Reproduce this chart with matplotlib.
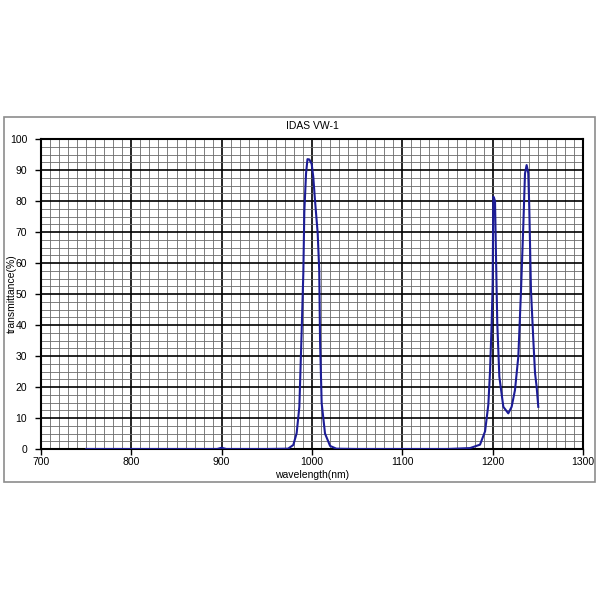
import numpy as np
import matplotlib.pyplot as plt
from matplotlib.patches import Rectangle
from matplotlib.ticker import MultipleLocator

plt.rcParams['font.family'] = ['Liberation Sans', 'DejaVu Sans']

# values
wavelength = [750, 800, 850, 895, 900, 905, 950, 973.5, 979.3, 983, 986, 988.6, 990.4,
              991.5, 993.4, 995, 997, 999.6, 1001.4, 1003.3, 1006.3, 1008, 1008.9,
              1010.7, 1014.4, 1020, 1027, 1050, 1100, 1150, 1175, 1186, 1191.6,
              1195.2, 1197, 1198.9, 1200, 1200.7, 1201.5, 1202.6, 1203.7, 1205.1,
              1207.4, 1211.8, 1217.3, 1221, 1224.7, 1228.4, 1231.4, 1234, 1235.8,
              1237.6, 1239.4, 1240.5, 1242.4, 1245, 1246.9, 1248.7, 1250.5]
transmittance = [0, 0, 0, 0, 0.4, 0, 0, 0.1, 1.3, 5.1, 13.6, 38.4, 56.8,
                 76.5, 88.9, 93.5, 93.4, 92, 87.8, 80.3, 69.6, 57.7, 35,
                 14.8, 5, 1, 0.1, 0, 0, 0, 0.3, 1.4, 5.7,
                 14.3, 24.5, 40.6, 53.5, 81.4, 81, 80, 62, 40.6,
                 23.3, 13.6, 11.5, 13.6, 19, 29.8, 51.3, 72.8, 88.9,
                 91.6, 89, 78.2, 51.3, 35.2, 24.5, 20, 13.6]

fig = plt.figure(figsize=(6, 6), dpi=100)
fig.patches.append(Rectangle((4/600, 1-482/600), 591/600, 365/600,
                             transform=fig.transFigure, fill=False,
                             edgecolor='#8c8c8c', lw=1.2))
ax = fig.add_axes([41/600, 1-449/600, 542/600, 310/600])

ax.plot(wavelength, transmittance, color='#1c1c96', lw=1.5, zorder=3)

ax.set_xlim(700, 1300)
ax.set_ylim(0, 100)
ax.xaxis.set_major_locator(MultipleLocator(100))
ax.xaxis.set_minor_locator(MultipleLocator(10))
ax.yaxis.set_major_locator(MultipleLocator(10))
ax.yaxis.set_minor_locator(MultipleLocator(2.5))
ax.grid(which='major', color='black', lw=1.2)
ax.grid(which='minor', color='#6a6a6a', lw=0.6)
ax.set_axisbelow(True)
for s in ax.spines.values():
    s.set_linewidth(1.5)
ax.tick_params(which='major', direction='out', length=4, width=1, labelsize=7.5)
ax.tick_params(axis='y', pad=6)
ax.tick_params(axis='x', pad=2)
ax.tick_params(which='minor', length=0)

ax.set_title('IDAS VW-1', fontsize=7.5, pad=7)
fig.text(312/600, 1-475/600, 'wavelength(nm)', fontsize=7.5,
         ha='center', va='center')
fig.text(12/600, 1-294/600, 'transmittance(%)', fontsize=7.5, rotation=90,
         ha='center', va='center')

fig.savefig('out.png', dpi=100)
